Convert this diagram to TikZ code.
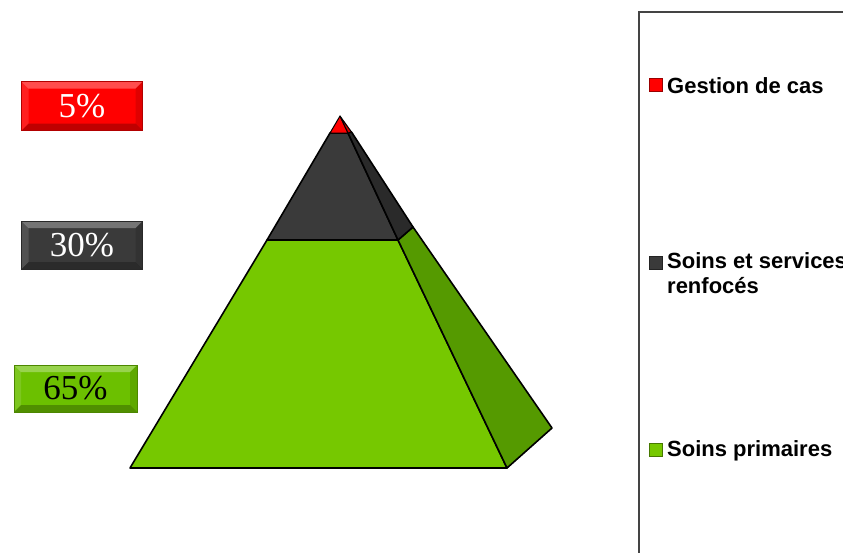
\documentclass[tikz,border=0pt]{standalone}
\usepackage{fontspec}
\setmainfont{Liberation Serif}
\newfontfamily\legfont{Liberation Sans}
\definecolor{cred}{HTML}{FF0000}
\definecolor{cdark}{HTML}{3A3A3A}
\definecolor{cdarkside}{HTML}{2A2A2A}
\definecolor{cgreen}{HTML}{76C800}
\definecolor{cgreenside}{HTML}{559A00}
\definecolor{cgreenbox}{HTML}{6CC000}
\definecolor{legline}{HTML}{444444}
\tikzset{
  bevelbox/.style={draw=#1!70!black, line width=0.8pt, fill=#1, minimum width=121pt, minimum height=49pt,
    inner sep=0pt, font=\fontsize{35}{38}\selectfont,
    path picture={
      \fill[white,opacity=0.30] (path picture bounding box.north west) -- (path picture bounding box.north east)
        -- ([xshift=-7pt,yshift=-7pt]path picture bounding box.north east) -- ([xshift=7pt,yshift=-7pt]path picture bounding box.north west) -- cycle;
      \fill[white,opacity=0.12] (path picture bounding box.north west) -- ([xshift=7pt,yshift=-7pt]path picture bounding box.north west)
        -- ([xshift=7pt,yshift=7pt]path picture bounding box.south west) -- (path picture bounding box.south west) -- cycle;
      \fill[black,opacity=0.25] (path picture bounding box.south west) -- (path picture bounding box.south east)
        -- ([xshift=-7pt,yshift=7pt]path picture bounding box.south east) -- ([xshift=7pt,yshift=7pt]path picture bounding box.south west) -- cycle;
      \fill[black,opacity=0.12] (path picture bounding box.north east) -- ([xshift=-7pt,yshift=-7pt]path picture bounding box.north east)
        -- ([xshift=-7pt,yshift=7pt]path picture bounding box.south east) -- (path picture bounding box.south east) -- cycle;
    }},
  face/.style={draw=black, line width=1.6pt, line join=round, fill=#1},
  legmark/.style={draw=#1!60!black, line width=0.6pt, fill=#1, minimum size=13pt, inner sep=0pt},
  legtext/.style={anchor=west, inner sep=0pt, align=left, font=\legfont\bfseries\fontsize{22}{25}\selectfont}
}
\begin{document}
\begin{tikzpicture}[x=1pt,y=-1pt]
\useasboundingbox (0,0) rectangle (843,552);
\clip (0,0) rectangle (843,552);
\fill[white] (0,0) rectangle (843,552);

% percentage boxes
\node[bevelbox=cred, text=white] (p5) at (82,106) {5\%};
\node[bevelbox=cdark, text=white, minimum height=48pt] (p30) at (82,245) {30\%};
\node[bevelbox=cgreenbox, text=black, minimum width=123pt, minimum height=47pt] (p65) at (75.5,388.5) {65\%};

% pyramid
\filldraw[face=cgreen] (267,240) -- (398,240) -- (507,468) -- (130,468) -- cycle;
\filldraw[face=cgreenside] (398,240) -- (413,227) -- (552,428) -- (507,468) -- cycle;
\filldraw[face=cdark] (330,133) -- (348,133) -- (398,240) -- (267,240) -- cycle;
\filldraw[face=cdarkside] (348,133) -- (351.5,132) -- (413,227) -- (398,240) -- cycle;
\filldraw[face=cred, line width=1pt] (340,116) -- (348,133) -- (330,133) -- cycle;
\filldraw[face=cred!80!black, line width=1pt] (340,116) -- (351.5,132) -- (348,133) -- cycle;

% legend frame
\draw[legline, line width=1.4pt] (639,560) -- (639,12) -- (850,12);

% legend
\node[legmark=cred] (m1) at (656,85) {};
\node[legtext] (l1) at (667,86) {Gestion de cas};
\node[legmark=cdark] (m2) at (656,263) {};
\node[legtext, anchor=north west] (l2) at (667,252) {Soins et services\\renfocés};
\node[legmark=cgreen] (m3) at (656,450) {};
\node[legtext] (l3) at (667,451) {Soins primaires};
\end{tikzpicture}
\end{document}
